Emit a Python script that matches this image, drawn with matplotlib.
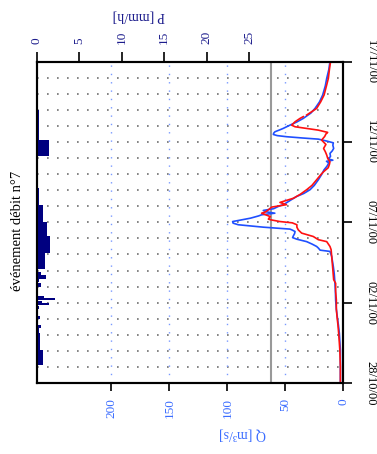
import numpy as np
import matplotlib.pyplot as plt

plt.rcParams['font.family'] = ['Liberation Serif', 'DejaVu Serif']

# time in days since 28/10/00
date_pos = [0, 5, 10, 15, 20]
date_labels = ['28/10/00', '02/11/00', '07/11/00', '12/11/00', '17/11/00']

q_ticks = [0, 50, 100, 150, 200]
p_ticks = [0, 5, 10, 15, 20, 25]
q_threshold = 62

# observed discharge (blue)
t_obs = [0.0, 1.0, 2.06, 2.6, 3.1, 3.6, 4.13, 4.6, 5.17, 5.7,
         6.21, 6.8, 7.25, 7.88, 8.19, 8.27, 8.4, 8.5, 8.65, 8.8,
         8.95, 9.05, 9.15, 9.3, 9.43, 9.52, 9.58, 9.7, 9.85, 9.95,
         10.05, 10.15, 10.26, 10.4, 10.47, 10.57, 10.65, 10.74, 10.85, 10.99,
         11.1, 11.2, 11.4, 11.61, 11.8, 12.03, 12.3, 12.65, 13.0, 13.27,
         13.5, 13.7, 13.8, 13.87, 13.95, 14.1, 14.29, 14.45, 14.6, 14.8,
         14.95, 15.06, 15.18, 15.25, 15.33, 15.4, 15.47, 15.55, 15.64, 15.75,
         15.85, 16.05, 16.25, 16.47, 16.8, 17.09, 17.5, 17.92, 18.5, 18.96,
         19.5, 20.0]
q_obs = [2.5, 2.5, 2.5, 3.0, 3.4, 4.2, 5.2, 6.0, 6.6, 6.8,
         7.2, 7.8, 8.6, 10.0, 11.5, 20.0, 21.5, 23.0, 27.0, 31.6,
         40.0, 43.7, 43.1, 42.0, 41.6, 44.0, 46.0, 69.0, 90.5, 95.0,
         95.4, 88.0, 80.0, 73.0, 70.4, 59.0, 66.0, 69.0, 60.0, 56.0,
         52.0, 49.4, 45.0, 40.2, 34.0, 28.7, 25.0, 21.5, 18.5, 16.6,
         14.0, 12.5, 14.5, 9.0, 13.0, 11.0, 11.5, 9.5, 8.3, 9.0,
         8.6, 14.3, 21.5, 35.0, 48.8, 57.0, 60.3, 60.0, 58.9, 55.0,
         51.7, 46.0, 40.0, 34.5, 28.0, 24.4, 20.5, 17.8, 15.5, 14.3,
         12.5, 11.5]

# simulated discharge (red)
t_sim = [0.0, 1.0, 2.06, 2.6, 3.1, 3.6, 4.13, 4.6, 5.17, 5.7,
         6.21, 6.43, 7.05, 7.88, 8.3, 8.5, 8.8, 8.92, 9.12, 9.33,
         9.53, 9.7, 9.85, 9.97, 10.05, 10.15, 10.2, 10.36, 10.5, 10.57,
         10.65, 10.78, 10.95, 11.1, 11.24, 11.5, 11.75, 12.03, 12.3, 12.65,
         13.0, 13.15, 13.4, 13.6, 13.77, 14.0, 14.19, 14.4, 14.6, 14.85,
         15.12, 15.35, 15.5, 15.54, 15.6, 15.74, 15.95, 16.05, 16.26, 16.47,
         16.58, 16.62, 16.68, 17.09, 17.5, 17.92, 18.5, 18.96, 19.5, 20.0]
q_sim = [2.5, 2.5, 3.0, 3.5, 4.0, 4.6, 5.4, 6.0, 6.0, 6.6,
         6.6, 8.3, 9.0, 10.0, 10.5, 11.5, 14.3, 21.5, 25.9, 35.9,
         38.8, 40.0, 40.0, 44.0, 54.6, 62.0, 64.6, 63.0, 68.0, 70.4,
         67.0, 64.6, 61.7, 49.0, 54.6, 43.0, 37.0, 31.6, 27.0, 23.0,
         19.0, 17.0, 13.0, 12.0, 11.5, 13.5, 14.3, 15.5, 17.0, 15.0,
         18.7, 16.0, 15.0, 14.3, 13.5, 21.5, 41.6, 44.5, 41.6, 37.3,
         34.5, np.nan, 31.6, 23.0, 19.5, 16.6, 14.5, 12.9, 12.0, 11.0]

# rainfall intensity blocks [mm/h]
rain_start = [1.12, 2.06, 3.1, 3.4, 3.7, 4.0, 4.3, 4.6, 4.85, 5.0,
              5.15, 5.3, 5.6, 6.0, 6.3, 6.5, 6.7, 6.9, 7.08, 8.08,
              9.12, 10.05, 11.09, 14.1, 15.14, 17.0]
rain_end = [2.06, 3.1, 3.4, 3.6, 3.9, 4.2, 4.5, 4.8, 4.95, 5.1,
            5.3, 5.4, 5.9, 6.2, 6.5, 6.7, 6.9, 7.08, 8.08, 9.12,
            10.05, 11.09, 12.13, 15.14, 17.0, 19.08]
rain_p = [0.7, 0.4, 0.3, 0.5, 0.2, 0.4, 0.2, 0.3, 1.4, 0.6,
          2.2, 0.9, 0.1, 0.5, 0.3, 1.1, 0.5, 0.2, 1.0, 1.6,
          1.2, 0.7, 0.3, 1.4, 0.22, 0.15]

q_col = '#3a6cff'
p_col = '#1c1c8c'

fig = plt.figure(figsize=(3.77, 4.54), dpi=100)
ax = fig.add_axes([0.0973, 0.1564, 0.8133, 0.7077])

for d in range(1, 20):
    ax.axhline(d, color='#707070', lw=1.2, ls=(0, (1, 5)), zorder=1)
for q in q_ticks[1:]:
    ax.axvline(q, color='#7a9aff', lw=1.0, ls=(0, (1, 5)), zorder=1)
ax.axvline(q_threshold, color='#999999', lw=1.5, zorder=2)

ax.plot(q_obs, t_obs, color='#1f4fff', lw=1.2, zorder=3)
ax.plot(q_sim, t_sim, color='#ff1010', lw=1.2, zorder=4)

ax.set_xlim(264.3, 0)
ax.set_ylim(0, 20)
ax.set_xticks(q_ticks)
ax.set_xticklabels([str(v) for v in q_ticks])
ax.tick_params(axis='x', direction='out', length=6, width=1.2, pad=5,
               labelsize=9.5, labelcolor=q_col, labelrotation=90)
ax.yaxis.tick_right()
ax.set_yticks(date_pos)
ax.set_yticklabels(date_labels, rotation=-90, va='center', fontsize=9)
ax.tick_params(axis='y', direction='out', length=6.5, width=1.2, pad=9,
               left=False)

ax2 = ax.twiny()
ax2.barh(rain_start, rain_p,
         height=np.array(rain_end) - np.array(rain_start),
         align='edge', color='#000080', edgecolor='none')
ax2.set_xlim(0, 36.07)
ax2.set_xticks(p_ticks)
ax2.set_xticklabels([str(v) for v in p_ticks])
ax2.tick_params(axis='x', direction='out', length=7, width=1.2, pad=6,
                labelsize=9.5, labelcolor=p_col, labelrotation=90)

for a in (ax, ax2):
    for s in a.spines.values():
        s.set_linewidth(1.5)

fig.text(139 / 377, 1 - 16 / 454, 'P [mm/h]', rotation=180, color=p_col,
         fontsize=10, ha='center', va='center')
fig.text(242 / 377, 1 - 434 / 454, 'Q [m³/s]', rotation=180, color=q_col,
         fontsize=10, ha='center', va='center')
fig.text(18 / 377, 1 - 231 / 454, 'événement débit n°7', rotation=90,
         fontsize=10.5, ha='center', va='center')

fig.savefig('out.png', dpi=100)
